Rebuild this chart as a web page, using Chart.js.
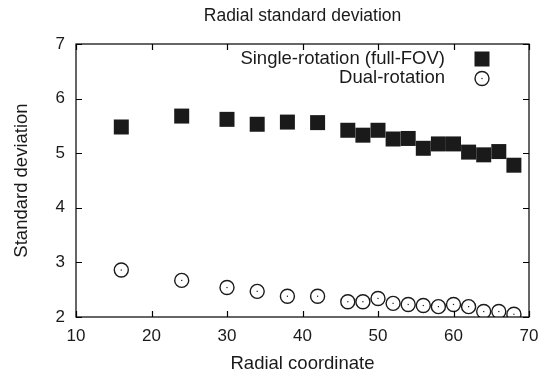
<!DOCTYPE html>
<html>
<head>
<meta charset="utf-8">
<script src="https://cdn.jsdelivr.net/npm/chart.js@4.4.1/dist/chart.umd.min.js"></script>
<style>
  html, body { margin: 0; padding: 0; background: #fff; }
  #wrap { width: 548px; height: 377px; }
</style>
</head>
<body>
<div id="wrap"><canvas id="radialChart" width="548" height="377"></canvas></div>
<script>
// Radial coordinate of each sample
const radialCoords = [16, 24, 30, 34, 38, 42, 46, 48, 50, 52, 54, 56, 58, 60, 62, 64, 66, 68];
// Standard deviation per method
const singleRotation = [5.48, 5.68, 5.62, 5.53, 5.57, 5.56, 5.42, 5.33, 5.42, 5.26, 5.27, 5.09, 5.17, 5.17, 5.02, 4.97, 5.03, 4.78];
const dualRotation = [2.86, 2.67, 2.54, 2.47, 2.38, 2.38, 2.28, 2.28, 2.34, 2.25, 2.23, 2.21, 2.19, 2.23, 2.19, 2.10, 2.10, 2.05];
const seriesLabels = ['Single-rotation (full-FOV)', 'Dual-rotation'];
const chartTitle = 'Radial standard deviation';
const xTicks = [10, 20, 30, 40, 50, 60, 70];
const yTicks = [2, 3, 4, 5, 6, 7];

const FONT = 'Liberation Sans, Arial, Helvetica, sans-serif';
const INK = '#1a1a1a';

function toPoints(xs, ys) {
    return xs.map((x, i) => ({ x: x, y: ys[i] }));
}

// frame + inward ticks on all four sides, and the dots inside the circles
const framePlugin = {
    id: 'frame',
    afterDatasetsDraw(chart) {
        const ctx = chart.ctx;
        const a = chart.chartArea;
        const xs = chart.scales.x, ys = chart.scales.y;
        const len = 6;
        ctx.save();
        // center dots of the dual-rotation markers
        ctx.fillStyle = INK;
        chart.getDatasetMeta(1).data.forEach(pt => {
            ctx.fillRect(pt.x - 0.6, pt.y - 0.6, 1.2, 1.2);
        });
        ctx.strokeStyle = '#000';
        ctx.lineWidth = 1.2;
        ctx.strokeRect(a.left, a.top, a.right - a.left, a.bottom - a.top);
        ctx.beginPath();
        xTicks.forEach(v => {
            const px = Math.round(xs.getPixelForValue(v)) + 0.5;
            ctx.moveTo(px, a.bottom); ctx.lineTo(px, a.bottom - len);
            ctx.moveTo(px, a.top); ctx.lineTo(px, a.top + len);
        });
        yTicks.forEach(v => {
            const py = Math.round(ys.getPixelForValue(v)) + 0.5;
            ctx.moveTo(a.left, py); ctx.lineTo(a.left + len, py);
            ctx.moveTo(a.right, py); ctx.lineTo(a.right - len, py);
        });
        ctx.stroke();
        ctx.restore();
    }
};

// title centred over the plot box, legend with marker on the right
const keyPlugin = {
    id: 'key',
    afterDraw(chart) {
        const ctx = chart.ctx;
        const a = chart.chartArea;
        ctx.save();
        ctx.fillStyle = INK;
        ctx.textAlign = 'center';
        ctx.textBaseline = 'middle';
        ctx.font = '17.5px ' + FONT;
        ctx.fillText(chartTitle, (a.left + a.right) / 2, 16.5);

        ctx.font = '18.5px ' + FONT;
        ctx.textAlign = 'right';
        chart.data.datasets.forEach((ds, i) => {
            const y = a.top + 15 + i * 18.5;
            ctx.fillStyle = INK;
            ctx.fillText(ds.label, a.right - 84, y);
            const mx = a.right - 47;
            if (i === 0) {
                ctx.fillRect(mx - 7.5, y - 7.5, 15, 15);
            } else {
                ctx.strokeStyle = INK;
                ctx.lineWidth = 1.4;
                ctx.beginPath();
                ctx.arc(mx, y + 1, 7, 0, Math.PI * 2);
                ctx.stroke();
                ctx.fillRect(mx - 0.6, y + 0.4, 1.2, 1.2);
            }
        });
        ctx.restore();
    }
};

new Chart(document.getElementById('radialChart').getContext('2d'), {
    type: 'scatter',
    data: {
        datasets: [{
            label: seriesLabels[0],
            data: toPoints(radialCoords, singleRotation),
            pointStyle: 'rect',
            pointRadius: 10.6,
            pointHoverRadius: 10.6,
            backgroundColor: INK,
            borderColor: INK,
            borderWidth: 0
        }, {
            label: seriesLabels[1],
            data: toPoints(radialCoords, dualRotation),
            pointStyle: 'circle',
            pointRadius: 7,
            pointHoverRadius: 7,
            borderWidth: 1.4,
            backgroundColor: 'rgba(0,0,0,0)',
            borderColor: INK
        }]
    },
    options: {
        responsive: false,
        animation: false,
        layout: { padding: { left: 0, right: 19, top: 44, bottom: 0 } },
        plugins: {
            legend: { display: false },
            tooltip: { enabled: false },
            title: { display: false }
        },
        scales: {
            x: {
                type: 'linear',
                min: 10, max: 70,
                afterBuildTicks: s => { s.ticks = xTicks.map(v => ({ value: v })); },
                afterFit: s => { s.height = 60; },
                grid: { display: false, drawTicks: false },
                border: { display: false },
                ticks: { color: INK, padding: 9, font: { family: FONT, size: 17 } },
                title: {
                    display: true,
                    text: 'Radial coordinate',
                    color: INK,
                    font: { family: FONT, size: 18.5 },
                    padding: { top: 0, bottom: 2 }
                }
            },
            y: {
                type: 'linear',
                min: 2, max: 7,
                afterBuildTicks: s => { s.ticks = yTicks.map(v => ({ value: v })); },
                afterFit: s => { s.width = 76; },
                grid: { display: false, drawTicks: false },
                border: { display: false },
                ticks: { color: INK, padding: 11, font: { family: FONT, size: 17 } },
                title: {
                    display: true,
                    text: 'Standard deviation',
                    color: INK,
                    font: { family: FONT, size: 18.5 },
                    padding: { top: 11, bottom: 0 }
                }
            }
        }
    },
    plugins: [framePlugin, keyPlugin]
});
</script>
</body>
</html>
